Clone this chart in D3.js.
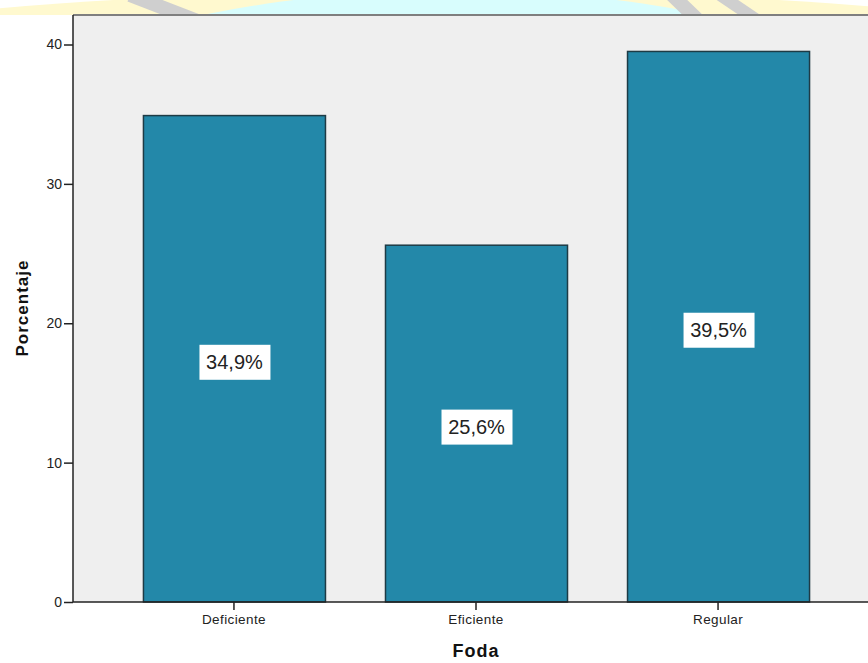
<!DOCTYPE html>
<html>
<head>
<meta charset="utf-8">
<script src="https://cdn.jsdelivr.net/npm/d3@7"></script>
<style>
  html, body { margin: 0; padding: 0; background: #ffffff; }
  svg { display: block; font-family: "Liberation Sans", Arial, sans-serif; }
</style>
</head>
<body>
<svg id="chart" width="868" height="663"></svg>
<script>
// Foda: percentage of responses per category
const categories = ["Deficiente", "Eficiente", "Regular"];
const percentages = [34.9, 25.6, 39.5];
const valueLabels = ["34,9%", "25,6%", "39,5%"];
const yTicks = [0, 10, 20, 30, 40];

(function draw() {
  const svg = d3.select("#chart");
  const W = 868;

  // Faint watermark band above the plot
  const wm = svg.append("g");
  wm.append("clipPath").attr("id", "wmclip")
    .append("rect").attr("x", 0).attr("y", 0).attr("width", W).attr("height", 15);
  const wg = wm.append("g").attr("clip-path", "url(#wmclip)");
  wg.append("ellipse").attr("cx", 446).attr("cy", 300).attr("rx", 1320).attr("ry", 310).attr("fill", "#fff9cf");
  wg.append("ellipse").attr("cx", 455).attr("cy", 300).attr("rx", 640).attr("ry", 310).attr("fill", "#d8fdfd");
  [[130, 200, 14], [672, 700, 14], [720, 760, 12]].forEach(([a, b, w]) => {
    wg.append("line").attr("x1", a).attr("y1", -5).attr("x2", b).attr("y2", 22)
      .attr("stroke", "#cfcfcf").attr("stroke-width", w);
  });

  // Plot area
  const plotLeft = 73, plotTop = 15, plotBottom = 602;
  const y = d3.scaleLinear().domain([0, 40]).range([plotBottom, 44.5]);
  const x = d3.scaleBand().domain(categories)
    .range([plotLeft, 879]).paddingInner(0.248).paddingOuter(0.289);

  svg.append("rect").attr("x", plotLeft).attr("y", plotTop)
    .attr("width", W - plotLeft).attr("height", plotBottom - plotTop).attr("fill", "#efefef");
  svg.append("line").attr("x1", plotLeft).attr("x2", W).attr("y1", plotTop).attr("y2", plotTop)
    .attr("stroke", "#7f7f7f").attr("stroke-width", 2);

  // Bars
  svg.append("g").selectAll("rect").data(categories).join("rect")
    .attr("x", d => x(d) + 0.5)
    .attr("y", (d, i) => y(percentages[i]))
    .attr("width", x.bandwidth())
    .attr("height", (d, i) => y(0) - y(percentages[i]))
    .attr("fill", "#2388a9")
    .attr("stroke", "#1e3b45")
    .attr("stroke-width", 1.5);

  // Axes
  const yAxis = svg.append("g").attr("transform", `translate(${plotLeft},0)`)
    .call(d3.axisLeft(y).tickValues(yTicks).tickSize(9).tickPadding(2));
  const xAxis = svg.append("g").attr("transform", `translate(0,${plotBottom})`)
    .call(d3.axisBottom(x).tickSize(8).tickPadding(4));
  [yAxis, xAxis].forEach(g => {
    g.select(".domain").attr("stroke", "#222").attr("stroke-width", 1.5);
    g.selectAll(".tick line").attr("stroke", "#222").attr("stroke-width", 1.5);
    g.selectAll(".tick text").attr("fill", "#222")
      .style("font-family", "'Liberation Sans', Arial, sans-serif");
  });
  yAxis.selectAll(".tick text").style("font-size", "14px");
  xAxis.selectAll(".tick text").style("font-size", "13.5px").style("letter-spacing", "0.4px");
  yAxis.select(".domain").attr("d", `M0,${plotTop}V${plotBottom}`);
  xAxis.select(".domain").attr("d", `M${plotLeft},0H${W}`);

  // Value labels on white boxes
  const lab = svg.append("g").selectAll("g").data(categories).join("g")
    .attr("transform", (d, i) => `translate(${x(d) + x.bandwidth() / 2 + 0.5},${y(percentages[i] / 2) + 3})`);
  lab.append("rect").attr("x", -35).attr("y", -17).attr("width", 71).attr("height", 35).attr("fill", "#ffffff");
  lab.append("text").text((d, i) => valueLabels[i])
    .attr("text-anchor", "middle").attr("dy", "0.36em")
    .attr("fill", "#222").style("font-size", "20px");

  // Axis titles
  svg.append("text").text("Foda")
    .attr("x", x("Eficiente") + x.bandwidth() / 2).attr("y", 657)
    .attr("text-anchor", "middle").attr("font-weight", "bold")
    .attr("fill", "#111").style("font-size", "18px").style("letter-spacing", "1px");
  svg.append("text").text("Porcentaje")
    .attr("transform", `translate(28,308) rotate(-90)`)
    .attr("text-anchor", "middle").attr("font-weight", "bold")
    .attr("fill", "#111").style("font-size", "17px").style("letter-spacing", "1px");
})();
</script>
</body>
</html>
